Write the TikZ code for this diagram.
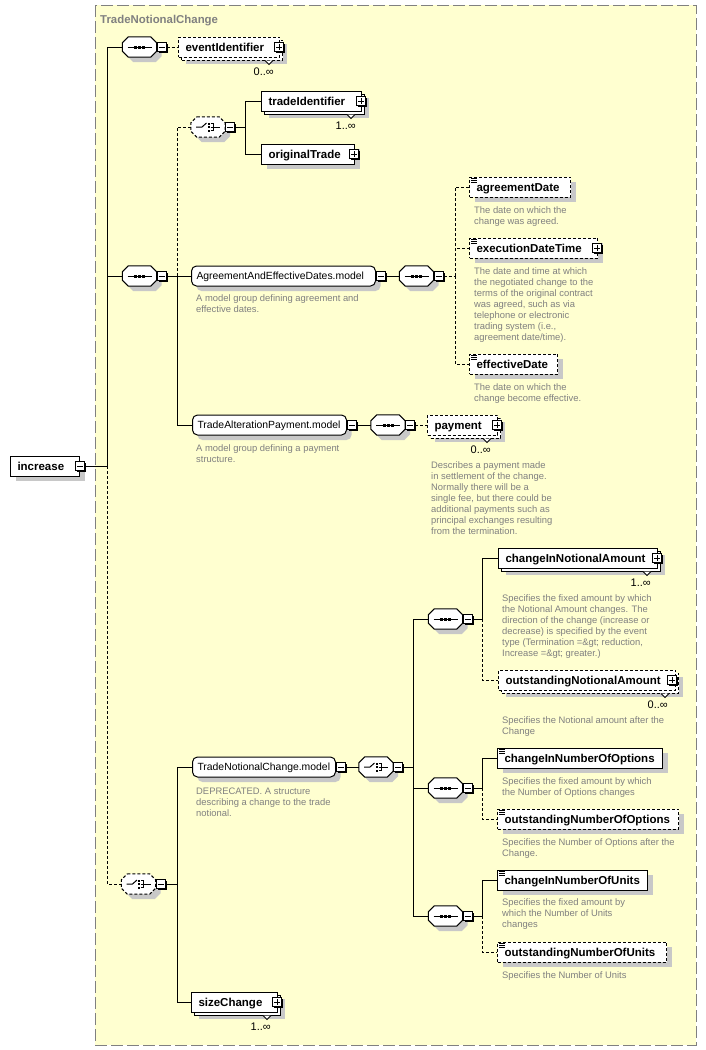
\documentclass[tikz,border=0pt]{standalone}
\usepackage{fontspec}
\setmainfont{Liberation Sans}
\usetikzlibrary{positioning}

\definecolor{frameyellow}{RGB}{255,255,208}
\definecolor{framegray}{RGB}{128,128,128}
\definecolor{descgray}{RGB}{128,128,128}
\definecolor{shadowgray}{RGB}{200,200,200}

\newcommand{\elemfont}{\fontsize{11.5}{13}\selectfont\bfseries}
\newcommand{\grpfont}{\fontsize{10.4}{12}\selectfont}
\newcommand{\descfont}{\fontsize{9.4}{11}\selectfont}
\newcommand{\occfont}{\fontsize{11}{13}\selectfont}
\newcommand{\titlefont}{\fontsize{11.4}{13}\selectfont\bfseries}

\tikzstyle{shadowed} = [preaction={fill=shadowgray, transform canvas={shift={(5pt,-5pt)}}}]
\tikzstyle{stacked} = [preaction={fill=shadowgray, transform canvas={shift={(7pt,-7pt)}}}, preaction={draw, fill=white, transform canvas={shift={(3pt,-3pt)}}}]
\tikzstyle{elembase} = [rectangle, draw, fill=white, line width=1pt, font=\elemfont, minimum height=20pt, inner xsep=7pt, inner ysep=0pt, anchor=west, align=left, text height=8.2pt, text depth=0pt]
\tikzstyle{element} = [elembase, shadowed]
\tikzstyle{elements} = [elembase, stacked]
\tikzstyle{optbox} = [dash pattern=on 3pt off 2pt]
\tikzstyle{modelgroup} = [rectangle, rounded corners=5pt, draw, fill=white, line width=1pt, font=\grpfont, minimum height=20pt, inner xsep=5pt, inner ysep=0pt, anchor=west, align=left, text height=7.5pt, text depth=0pt, shadowed]
\tikzstyle{compositor} = [rectangle, minimum width=34pt, minimum height=20pt, inner sep=0pt]
\tikzstyle{signbox} = [rectangle, draw, fill=white, line width=1pt, minimum size=9pt, inner sep=0pt, preaction={fill=black, transform canvas={shift={(1.5pt,-1.5pt)}}}]
\tikzstyle{minusbox} = [signbox, path picture={
    \draw[line width=1pt] ([xshift=-3pt]path picture bounding box.center) -- ([xshift=3pt]path picture bounding box.center);}]
\tikzstyle{plusbox} = [signbox, path picture={
    \draw[line width=1pt] ([xshift=-3pt]path picture bounding box.center) -- ([xshift=3pt]path picture bounding box.center);
    \draw[line width=1pt] ([yshift=-3pt]path picture bounding box.center) -- ([yshift=3pt]path picture bounding box.center);}]
\tikzstyle{desc} = [font=\descfont, text=descgray, inner sep=0pt, align=left]
\tikzstyle{occurs} = [font=\occfont, inner sep=0pt, anchor=east]
\tikzstyle{line} = [draw, line width=1pt]
\tikzstyle{optline} = [line, dash pattern=on 3pt off 2pt]

\begin{document}
\begin{tikzpicture}[x=1pt, y=-1pt]
    \useasboundingbox (0,0) rectangle (706,1050);
    \draw[draw=framegray, fill=frameyellow, line width=1pt, dash pattern=on 12pt off 4pt] (95,5) rectangle (696,1045);
    \node[anchor=base west, font=\titlefont, text=framegray, inner sep=0pt] (title) at (100,23) {TradeNotionalChange};

    % compositors
    \node[compositor] (s1) at (139.5,47) {};
    \node[compositor] (s2) at (139.5,276) {};
    \node[compositor] (c1) at (208,127) {};
    \node[compositor] (s3) at (416.5,276) {};
    \node[compositor] (s4) at (388,425) {};
    \node[compositor] (c2) at (138.5,884) {};
    \node[compositor] (c3) at (376,767) {};
    \node[compositor] (s5) at (445.5,619) {};
    \node[compositor] (s6) at (445.5,788) {};
    \node[compositor] (s7) at (445.5,916) {};

    \foreach \n/\st in {s1/solid, s2/solid, s3/solid, s4/solid, s5/solid, s6/solid, s7/solid, c1/optbox, c2/optbox, c3/solid} {
        \fill[shadowgray, transform canvas={shift={(5pt,-5pt)}}] ([xshift=6pt]\n.north west) -- ([xshift=-6pt]\n.north east) -- ([yshift=-6pt]\n.north east) -- ([yshift=6pt]\n.south east) -- ([xshift=-6pt]\n.south east) -- ([xshift=6pt]\n.south west) -- ([yshift=6pt]\n.south west) -- ([yshift=-6pt]\n.north west) -- cycle;
        \draw[\st, fill=white, line width=1pt] ([xshift=6pt]\n.north west) -- ([xshift=-6pt]\n.north east) -- ([yshift=-6pt]\n.north east) -- ([yshift=6pt]\n.south east) -- ([xshift=-6pt]\n.south east) -- ([xshift=6pt]\n.south west) -- ([yshift=6pt]\n.south west) -- ([yshift=-6pt]\n.north west) -- cycle;
    }
    \foreach \n in {s1, s2, s3, s4, s5, s6, s7} {
        \draw[line width=1pt] ([xshift=-12pt]\n.center) -- ([xshift=12pt]\n.center);
        \foreach \dx in {-4,0,4}
            \fill ([xshift=\dx pt]\n.center) +(-1.5pt,-1.5pt) rectangle +(1.5pt,1.5pt);
    }
    \foreach \n in {c1, c2, c3} {
        \draw[line width=1pt] ([xshift=-12pt]\n.center) -- ([xshift=-6pt]\n.center) -- ([xshift=-1.5pt,yshift=4pt]\n.center);
        \foreach \dy in {3.5,0,-3.5}
            \fill ([xshift=0.5pt,yshift=\dy pt]\n.center) +(-1pt,-1pt) rectangle +(1pt,1pt);
        \draw[line width=1pt] ([xshift=2.5pt,yshift=3.5pt]\n.center) -- ([xshift=5pt,yshift=3.5pt]\n.center) -- ([xshift=5pt,yshift=-3.5pt]\n.center) -- ([xshift=2.5pt,yshift=-3.5pt]\n.center);
        \draw[line width=1pt] ([xshift=2.5pt]\n.center) -- ([xshift=12pt]\n.center);
    }

    % root
    \node[element, text width=55pt] (inc) at (10,466) {increase};
    \node[minusbox] (incm) at (inc.east) {};

    % first sequence
    \node[minusbox, right=0pt of s1] (s1m) {};
    \node[elements, optbox, text width=87pt] (evid) at (178,47) {eventIdentifier};
    \node[plusbox] (evidp) at ([xshift=-1pt]evid.east) {};
    \node[occurs] (evido) at ([xshift=-6pt,yshift=-14pt]evid.south east) {0..∞};

    % second sequence
    \node[minusbox, right=0pt of s2] (s2m) {};

    \node[minusbox, right=0pt of c1] (c1m) {};
    \node[elements, text width=86pt] (trid) at (261,101) {tradeIdentifier};
    \node[plusbox] (tridp) at ([xshift=-1pt]trid.east) {};
    \node[occurs] (trido) at ([xshift=-6pt,yshift=-14pt]trid.south east) {1..∞};
    \node[element, text width=79pt] (orig) at (261,154) {originalTrade};
    \node[plusbox] (origp) at ([xshift=-1pt]orig.east) {};

    \node[modelgroup, text width=174pt] (aed) at (191,276) {AgreementAndEffectiveDates.model};
    \node[minusbox, right=0pt of aed] (aedm) {};
    \node[desc, below right=8pt and 5pt of aed.south west] (aedd) {A model group defining agreement and\\effective dates.};
    \node[minusbox, right=0pt of s3] (s3m) {};
    \node[element, optbox, text width=87pt] (agd) at (469,187) {agreementDate};
    \node[desc, below right=9pt and 5pt of agd.south west] (agdd) {The date on which the\\change was agreed.};
    \node[element, optbox, text width=114pt] (edt) at (469,248) {executionDateTime};
    \node[plusbox] (edtp) at ([xshift=-1pt]edt.east) {};
    \node[desc, below right=9pt and 5pt of edt.south west] (edtd) {The date and time at which\\the negotiated change to the\\terms of the original contract\\was agreed, such as via\\telephone or electronic\\trading system (i.e.,\\agreement date/time).};
    \node[element, optbox, text width=74pt] (efd) at (469,364) {effectiveDate};
    \node[desc, below right=9pt and 5pt of efd.south west] (efdd) {The date on which the\\change become effective.};

    \node[modelgroup, text width=144pt] (tap) at (192,425) {TradeAlterationPayment.model};
    \node[minusbox, right=0pt of tap] (tapm) {};
    \node[desc, below right=9pt and 4pt of tap.south west] (tapd) {A model group defining a payment\\structure.};
    \node[minusbox, right=0pt of s4] (s4m) {};
    \node[elements, optbox, text width=56pt] (pay) at (427,425) {payment};
    \node[plusbox] (payp) at ([xshift=-1pt]pay.east) {};
    \node[occurs] (payo) at ([xshift=-7pt,yshift=-14pt]pay.south east) {0..∞};
    \node[desc, below right=26pt and 4pt of pay.south west] (payd) {Describes a payment made\\in settlement of the change.\\Normally there will be a\\single fee, but there could be\\additional payments such as\\principal exchanges resulting\\from the termination.};

    % choice
    \node[minusbox, right=0pt of c2] (c2m) {};
    \node[modelgroup, text width=133pt] (tnc) at (192,767) {TradeNotionalChange.model};
    \node[minusbox, right=0pt of tnc] (tncm) {};
    \node[desc, below right=10pt and 4pt of tnc.south west] (tncd) {DEPRECATED. A structure\\describing a change to the trade\\notional.};
    \node[minusbox, right=0pt of c3] (c3m) {};

    \node[minusbox, right=0pt of s5] (s5m) {};
    \node[elements, text width=145pt] (cna) at (498,558) {changeInNotionalAmount};
    \node[plusbox] (cnap) at ([xshift=-1pt]cna.east) {};
    \node[occurs] (cnao) at ([xshift=-7pt,yshift=-14pt]cna.south east) {1..∞};
    \node[desc, below right=26pt and 4pt of cna.south west] (cnad) {Specifies the fixed amount by which\\the Notional Amount changes. The\\direction of the change (increase or\\decrease) is specified by the event\\type (Termination =\&gt; reduction,\\Increase =\&gt; greater.)};
    \node[elements, optbox, text width=163pt] (ona) at (498,680) {outstandingNotionalAmount};
    \node[plusbox] (onap) at ([xshift=-4pt]ona.east) {};
    \node[occurs] (onao) at ([xshift=-8pt,yshift=-14pt]ona.south east) {0..∞};
    \node[desc, below right=26pt and 4pt of ona.south west] (onad) {Specifies the Notional amount after the\\Change};

    \node[minusbox, right=0pt of s6] (s6m) {};
    \node[element, text width=151pt] (cno) at (497,758) {changeInNumberOfOptions};
    \node[desc, below right=9pt and 5pt of cno.south west] (cnod) {Specifies the fixed amount by which\\the Number of Options changes};
    \node[element, optbox, text width=167pt] (ono) at (497,819) {outstandingNumberOfOptions};
    \node[desc, below right=9pt and 5pt of ono.south west] (onod) {Specifies the Number of Options after the\\Change.};

    \node[minusbox, right=0pt of s7] (s7m) {};
    \node[element, text width=136pt] (cnu) at (497,880) {changeInNumberOfUnits};
    \node[desc, below right=8pt and 5pt of cnu.south west] (cnud) {Specifies the fixed amount by\\which the Number of Units\\changes};
    \node[element, optbox, text width=155pt] (onu) at (497,952) {outstandingNumberOfUnits};
    \node[desc, below right=9pt and 5pt of onu.south west] (onud) {Specifies the Number of Units};

    \node[elements, text width=72pt] (szc) at (191,1002) {sizeChange};
    \node[plusbox] (szcp) at ([xshift=-1pt]szc.east) {};
    \node[occurs] (szco) at ([xshift=-7pt,yshift=-14pt]szc.south east) {1..∞};

    % simple type marks and stack notches
    \foreach \n in {agd, edt, efd, cno, ono, cnu, onu}
        \foreach \d in {2,4,6}
            \draw[line width=0.8pt] ([xshift=2pt, yshift=-\d pt]\n.north west) -- ++(6pt,0pt);
    \foreach \n in {evid, trid, pay, cna, ona, szc}
        \draw[line width=1pt, fill=white] ([xshift=-15pt, yshift=-3pt]\n.south east) -- ++(4pt,-4pt) -- ++(4pt,4pt);

    % connectors
    \coordinate (j0) at (107,466);
    \coordinate (j1) at (177,276);
    \coordinate (j2) at (245,127);
    \coordinate (j3) at (455,276);
    \coordinate (j4) at (177,884);
    \coordinate (j5) at (413,767);
    \coordinate (j6) at (482,619);
    \coordinate (j7) at (482,788);
    \coordinate (j8) at (482,916);

    \path[line] (incm) -- (j0);
    \path[line] (j0) |- (s1);
    \path[line] (j0) |- (s2);
    \path[optline] (j0) |- (c2);
    \path[optline] (s1m) -- (evid);

    \path[line] (s2m) -- (j1);
    \path[optline] (j1) |- (c1);
    \path[line] (j1) |- (aed);
    \path[line] (j1) |- (tap);

    \path[line] (c1m) -- (j2);
    \path[line] (j2) |- (trid);
    \path[line] (j2) |- (orig);

    \path[line] (aedm) -- (s3);
    \path[optline] (s3m) -- (j3);
    \path[optline] (j3) |- (agd);
    \path[optline] (j3) |- (edt);
    \path[optline] (j3) |- (efd);

    \path[line] (tapm) -- (s4);
    \path[optline] (s4m) -- (pay);

    \path[line] (c2m) -- (j4);
    \path[line] (j4) |- (tnc);
    \path[line] (j4) |- (szc);
    \path[line] (tncm) -- (c3);

    \path[line] (c3m) -- (j5);
    \path[line] (j5) |- (s5);
    \path[line] (j5) |- (s6);
    \path[line] (j5) |- (s7);

    \path[line] (s5m) -- (j6);
    \path[line] (j6) |- (cna);
    \path[optline] (j6) |- (ona);
    \path[line] (s6m) -- (j7);
    \path[line] (j7) |- (cno);
    \path[optline] (j7) |- (ono);
    \path[line] (s7m) -- (j8);
    \path[line] (j8) |- (cnu);
    \path[optline] (j8) |- (onu);
\end{tikzpicture}
\end{document}
